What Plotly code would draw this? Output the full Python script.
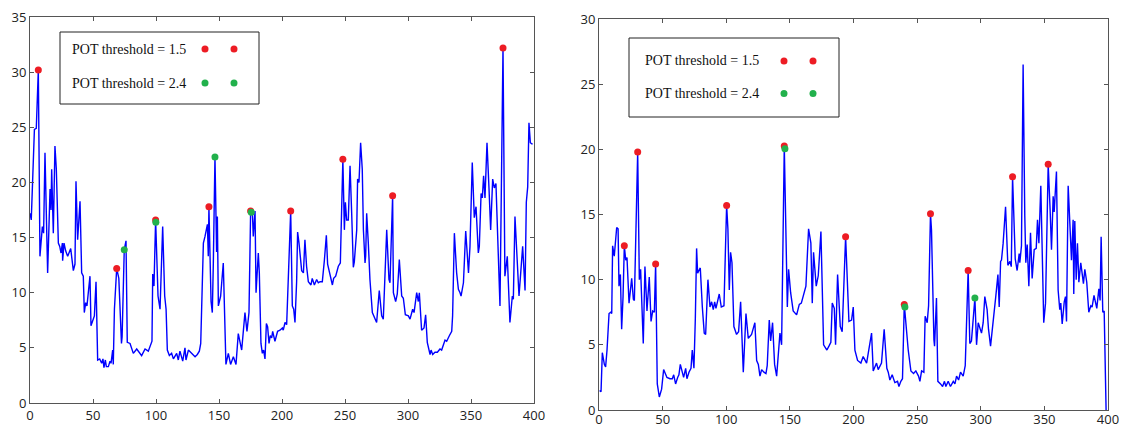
import plotly.graph_objects as go

# ---------------- data ----------------
# Left panel: signal series
left_x = [0, 1, 3.5, 5, 6.6, 7.9, 9.8, 10.8, 11.9, 14.0, 15.9, 16.7, 17.2, 18.5, 19.8, 20.9,
          22.5, 23.6, 24.6, 25.7, 25.9, 27.0, 28.3, 29.9, 32.3, 34.4, 35.7, 36.5, 37.8, 39.7,
          41.0, 42.3, 43.1, 44.2, 45.2, 47.6, 48.4, 50.2, 51.1, 52.4, 53.7, 55.3, 56.9, 57.9,
          58.7, 59.8, 60.6, 62.2, 63.5, 64.3, 65.6, 66.1, 67.0, 68.8, 70.5, 72.6, 73.1, 74.8,
          76.2, 77.2, 79.4, 82.0, 84.7, 88.6, 91.3, 93.9, 95.8, 96.8, 97.4, 98.4, 99.7, 101.6,
          103.2, 105.3, 106.9, 108.0, 109.0, 110.6, 112.4, 113.8, 116.4, 117.7, 119.0, 121.2,
          123.0, 123.8, 125.7, 128.3, 131.0, 132.8, 134.4, 135.5, 137.6, 138.9, 140.8, 141.5,
          142.0, 143.7, 144.7, 145.5, 146.8, 148.1, 148.7, 149.5, 151.3, 153.4, 155.5, 157.4,
          159.2, 161.4, 163.5, 165.3, 168.0, 170.6, 172.2, 173.8, 174.6, 175.1, 176.5, 177.2,
          178.6, 179.4, 181.2, 182.0, 183.3, 184.4, 185.4, 186.5, 187.6, 188.6, 189.7, 190.7,
          191.8, 192.6, 194.4, 196.5, 198.4, 200.3, 201.0, 202.4, 203.7, 206.3, 206.9, 208.2,
          209.3, 210.3, 211.6, 212.4, 213.5, 215.6, 217.0, 218.2, 219.5, 220.9, 223.0, 224.0,
          225.7, 227.5, 228.8, 230.2, 232.0, 233.6, 235.2, 236.2, 238.1, 240.0, 241.0, 242.6,
          244.7, 246.3, 248.3, 249.5, 250.3, 251.3, 252.6, 254.0, 255.3, 256.6, 257.4, 259.3,
          260.0, 261.1, 262.4, 263.7, 264.6, 265.9, 266.4, 267.2, 268.5, 269.8, 271.7, 273.8,
          275.1, 277.2, 279.1, 280.4, 283.1, 284.9, 285.7, 287.8, 288.4, 290.2, 291.5, 293.1,
          295.0, 296.3, 297.9, 300.3, 301.6, 303.7, 304.8, 306.9, 308.2, 309.0, 310.8, 312.7,
          314.0, 315.3, 317.5, 318.3, 319.6, 321.4, 323.3, 325.4, 326.7, 329.4, 330.7, 332.8,
          334.7, 335.4, 336.8, 338.6, 340.0, 341.3, 342.1, 344.0, 345.8, 348.0, 349.2, 351.0,
          352.6, 354.0, 355.8, 356.6, 358.0, 359.0, 360.0, 361.1, 362.7, 364.3, 365.6, 367.2,
          368.5, 369.8, 373.0, 375.4, 376.9, 378.8, 380.9, 382.8, 383.6, 384.9, 388.1, 391.0,
          392.9, 393.9, 395.0, 396.0, 397.1, 398.2, 399.0]
left_y = [17.2, 16.6, 24.8, 24.9, 30.2, 13.3, 16.0, 15.4, 22.7, 11.8, 19.4, 17.5, 21.2, 15.4, 23.3, 21.2,
          14.5, 14.2, 13.6, 14.5, 12.9, 14.5, 13.8, 13.3, 14.0, 12.0, 12.6, 20.1, 14.8, 18.3,
          11.8, 11.5, 8.2, 9.1, 8.8, 11.5, 7.0, 7.6, 7.9, 11.0, 3.9, 4.0, 3.6, 4.0,
          3.2, 3.9, 3.3, 3.3, 3.8, 3.6, 4.8, 3.5, 8.5, 12.2, 11.3, 5.4, 6.0, 13.9,
          14.7, 5.5, 5.4, 4.5, 4.9, 4.3, 4.9, 4.7, 5.4, 5.6, 11.7, 10.6, 16.6, 9.7,
          8.5, 16.0, 9.7, 8.5, 4.8, 4.3, 4.5, 4.0, 4.5, 3.9, 4.7, 3.8,
          5.0, 3.9, 4.8, 4.5, 4.2, 4.4, 4.7, 5.4, 14.5, 15.1, 16.2, 13.3,
          17.8, 9.2, 8.2, 12.7, 22.3, 13.7, 16.9, 8.8, 9.7, 12.7, 3.5, 4.5,
          3.5, 4.2, 3.5, 6.3, 4.8, 8.2, 6.5, 8.2, 14.2, 17.4, 17.3, 15.1,
          17.4, 10.0, 13.6, 11.8, 5.4, 4.5, 4.8, 4.0, 7.2, 6.9, 5.4, 6.1,
          5.9, 6.5, 5.6, 6.5, 6.6, 6.8, 6.6, 7.3, 7.1, 15.5, 17.4, 8.8,
          8.5, 7.3, 11.0, 15.5, 14.5, 12.0, 11.8, 14.8, 12.4, 11.0, 10.7, 11.3,
          10.7, 11.2, 10.9, 11.0, 11.0, 12.9, 15.2, 12.6, 11.5, 10.7, 11.3, 11.5,
          12.4, 12.7, 22.1, 15.7, 18.2, 16.6, 16.6, 21.5, 17.2, 12.3, 12.8, 15.7,
          20.3, 20.0, 23.6, 21.2, 15.7, 12.7, 13.3, 17.2, 14.5, 11.2, 8.2, 7.6,
          7.3, 10.2, 7.9, 7.6, 15.7, 11.2, 10.9, 18.8, 10.0, 9.2, 9.9, 13.0,
          9.7, 9.5, 8.0, 7.9, 7.6, 8.5, 8.2, 10.0, 9.2, 10.0, 6.6, 6.8,
          8.0, 5.5, 4.4, 4.8, 4.4, 4.6, 4.6, 4.9, 4.8, 5.7, 5.6, 6.1,
          6.5, 7.9, 15.4, 11.8, 10.3, 10.0, 9.7, 10.9, 15.6, 11.8, 14.2, 21.8,
          16.8, 17.8, 13.6, 14.2, 19.0, 18.6, 20.6, 18.6, 23.6, 19.4, 15.7, 20.3,
          19.5, 19.9, 8.8, 32.2, 11.5, 13.3, 7.3, 9.7, 9.4, 16.9, 9.7, 14.2,
          10.2, 18.2, 19.6, 25.4, 23.6, 23.5, 23.5]

# Left panel: peaks over threshold
left_red_x = [6.6, 68.8, 99.7, 142.0, 175.1, 206.9, 248.3, 287.8, 375.4]
left_red_y = [30.2, 12.2, 16.6, 17.8, 17.4, 17.4, 22.1, 18.8, 32.2]
left_green_x = [74.8, 99.9, 146.8, 175.6]
left_green_y = [13.9, 16.4, 22.3, 17.3]

# Right panel: signal series
right_x = [0.5, 1.6, 2.6, 4.2, 5.2, 6.3, 7.9, 9.2, 10.0, 10.7, 12.0, 13.9, 15.0, 15.7, 16.8, 17.8,
           18.9, 19.9, 21.0, 22.0, 23.6, 25.7, 27.0, 27.8, 30.4, 31.7, 32.7, 34.0, 34.8, 36.1,
           37.7, 39.5, 40.9, 42.2, 43.5, 44.5, 45.8, 47.4, 49.2, 50.8, 51.9, 53.4, 55.8, 57.6,
           58.7, 60.2, 61.8, 62.8, 63.9, 64.9, 66.5, 68.1, 69.1, 70.7, 72.3, 73.3, 74.6, 75.7,
           76.7, 77.5, 79.6, 81.2, 82.7, 83.8, 85.6, 87.2, 88.5, 89.8, 90.9, 91.9, 94.5, 96.1,
           98.2, 100.3, 101.3, 102.4, 103.4, 104.5, 106.0, 108.1, 109.7, 111.3, 113.4, 115.5,
           117.3, 119.9, 122.5, 123.9, 125.2, 126.5, 127.8, 129.6, 131.2, 132.2, 133.8, 134.9,
           136.4, 138.0, 139.6, 142.2, 143.5, 145.6, 148.0, 149.0, 150.6, 152.6, 155.3, 157.4,
           159.0, 162.6, 164.7, 166.5, 167.6, 168.6, 170.7, 172.3, 174.4, 176.5, 179.1, 180.7,
           182.2, 183.3, 184.9, 185.9, 187.5, 189.6, 191.1, 193.8, 196.4, 198.5, 199.8, 201.1,
           203.2, 205.8, 207.6, 210.3, 214.2, 215.5, 218.1, 219.4, 222.0, 224.1, 226.2, 227.3,
           228.6, 230.4, 232.5, 234.6, 235.7, 237.2, 238.5, 239.9, 243.0, 245.1, 247.2, 249.0,
           251.1, 252.2, 253.5, 255.3, 256.3, 257.9, 259.0, 260.5, 261.3, 263.2, 263.7, 265.2,
           266.3, 268.4, 270.0, 271.5, 272.6, 274.4, 276.2, 278.4, 279.7, 281.0, 282.6, 284.1,
           286.2, 287.8, 290.1, 291.4, 292.7, 295.4, 296.7, 298.0, 299.3, 300.6, 301.9, 303.2,
           305.0, 306.1, 307.7, 309.8, 311.9, 313.5, 314.5, 315.6, 316.3, 317.6, 319.5, 321.3,
           322.9, 324.0, 325.0, 327.1, 328.6, 330.2, 330.7, 332.0, 333.3, 334.6, 335.4, 336.5,
           337.8, 339.1, 340.4, 342.0, 343.6, 344.6, 345.7, 347.2, 348.3, 349.5, 350.9, 353.0,
           354.5, 355.6, 356.9, 357.7, 359.5, 360.8, 362.1, 362.9, 364.0, 365.6, 366.6, 367.4,
           368.7, 370.0, 371.3, 372.6, 373.1, 373.9, 375.0, 376.0, 377.1, 378.6, 379.7, 380.7,
           381.8, 383.3, 384.9, 386.5, 387.5, 389.0, 391.2, 392.8, 393.8, 394.6, 395.9, 397.0,
           398.5]
right_y = [1.5, 1.4, 4.4, 3.5, 3.3, 4.6, 7.4, 7.5, 7.4, 12.6, 11.8, 14.0, 13.9, 9.5, 10.4, 6.2,
           8.7, 12.6, 11.5, 11.7, 8.2, 10.1, 8.5, 8.4, 19.8, 10.0, 10.8, 6.4, 5.1, 11.0,
           7.6, 10.2, 6.8, 7.6, 7.5, 11.2, 2.0, 1.0, 1.6, 3.1, 2.8, 2.5, 2.4, 2.4,
           2.7, 2.0, 2.5, 2.7, 3.5, 3.0, 2.5, 3.2, 2.4, 2.9, 3.2, 4.6, 3.2, 7.0,
           12.4, 10.5, 10.9, 7.9, 5.9, 5.8, 10.0, 7.9, 8.3, 7.7, 8.3, 7.8, 8.9, 7.9,
           8.0, 15.7, 13.9, 9.2, 12.1, 11.3, 6.4, 5.8, 6.0, 8.3, 2.9, 7.4,
           5.5, 5.8, 6.7, 3.8, 3.5, 2.6, 3.1, 2.9, 2.8, 3.4, 6.9, 5.3,
           6.7, 3.5, 2.6, 5.9, 5.0, 20.25, 7.9, 10.8, 9.0, 7.6, 7.3, 8.1,
           8.2, 9.5, 13.9, 12.8, 8.2, 12.1, 9.5, 10.3, 13.7, 5.0, 4.6, 4.9,
           5.2, 8.2, 7.8, 5.0, 10.4, 6.4, 6.0, 13.3, 6.8, 6.9, 7.9, 4.6,
           3.8, 3.6, 4.1, 3.6, 5.9, 3.0, 3.6, 3.1, 3.6, 6.2, 3.2, 2.9,
           2.3, 2.7, 2.1, 2.2, 1.8, 2.2, 2.4, 8.1, 4.6, 3.0, 2.8, 3.0,
           2.6, 2.2, 3.0, 2.9, 7.2, 6.7, 8.0, 15.05, 13.8, 5.4, 4.9, 8.6,
           2.2, 2.0, 1.8, 2.2, 1.8, 2.2, 1.8, 2.2, 2.0, 2.6, 2.3, 2.9,
           2.6, 3.4, 10.7, 5.1, 5.3, 8.6, 5.0, 6.7, 6.2, 5.9, 6.7, 8.7,
           7.7, 6.2, 4.9, 6.7, 8.8, 10.4, 7.9, 11.4, 11.5, 12.8, 15.6, 11.1,
           11.4, 11.0, 17.9, 11.6, 10.7, 12.0, 11.3, 12.6, 26.5, 14.9, 11.3, 12.7,
           9.5, 13.6, 10.1, 12.3, 12.4, 14.6, 12.8, 17.2, 13.0, 6.7, 8.2, 18.85,
           15.4, 12.3, 16.4, 15.2, 18.3, 9.2, 7.7, 8.2, 6.6, 8.3, 8.7, 6.8,
           17.2, 14.6, 11.5, 14.6, 8.9, 14.5, 10.0, 12.8, 9.8, 11.3, 10.5, 9.7,
           10.8, 9.8, 7.5, 8.0, 7.9, 8.8, 7.8, 9.3, 8.4, 13.3, 7.5, 7.6,
           0.0]

# Right panel: peaks over threshold
right_red_x = [19.9, 30.4, 44.5, 100.3, 145.6, 193.8, 239.9, 260.5, 290.1, 325.0, 353.0]
right_red_y = [12.6, 19.8, 11.2, 15.7, 20.25, 13.3, 8.1, 15.05, 10.7, 17.9, 18.85]
right_green_x = [146.1, 240.4, 295.4]
right_green_y = [20.05, 7.9, 8.6]

legend_labels = ["POT threshold = 1.5", "POT threshold = 2.4"]

# ---------------- styling ----------------
W, H = 1126, 427
LINE_BLUE = "#0000ff"
RED = "#ed1c24"
GREEN = "#22b14c"
FRAME = "#555555"
TICK_FONT = dict(family="Open Sans, DejaVu Sans, sans-serif", size=13, color="#222222")
LEG_FONT = dict(family="Liberation Serif, DejaVu Serif, serif", size=14, color="#111111")


def fx(p):
    return p / W


def fy(p):
    return 1 - p / H


fig = go.Figure()

panels = [
    ("x", "y", left_x, left_y, left_red_x, left_red_y, left_green_x, left_green_y),
    ("x2", "y2", right_x, right_y, right_red_x, right_red_y, right_green_x, right_green_y),
]
for xa, ya, sx, sy, rx, ry, gx, gy in panels:
    fig.add_trace(go.Scatter(x=sx, y=sy, mode="lines", xaxis=xa, yaxis=ya,
                             line=dict(color=LINE_BLUE, width=1.4), showlegend=False,
                             hoverinfo="skip"))
    fig.add_trace(go.Scatter(x=rx, y=ry, mode="markers", xaxis=xa, yaxis=ya,
                             marker=dict(color=RED, size=7, line=dict(width=0)),
                             name=legend_labels[0], showlegend=False))
    fig.add_trace(go.Scatter(x=gx, y=gy, mode="markers", xaxis=xa, yaxis=ya,
                             marker=dict(color=GREEN, size=7, line=dict(width=0)),
                             name=legend_labels[1], showlegend=False))


def axis_style(domain, rng, dtick, anchor, standoff=0):
    return dict(domain=domain, range=rng, dtick=dtick, tick0=0, anchor=anchor,
                showline=True, linecolor=FRAME, linewidth=1, mirror="ticks",
                ticks="inside", ticklen=4, tickcolor=FRAME, tickwidth=1,
                showgrid=False, zeroline=False, tickfont=TICK_FONT, automargin=False,
                ticklabelstandoff=standoff)


fig.update_layout(
    width=W, height=H,
    margin=dict(l=0, r=0, t=0, b=0),
    paper_bgcolor="white", plot_bgcolor="white",
    showlegend=False,
    xaxis=axis_style([fx(30), fx(534)], [0, 400], 50, "y"),
    yaxis=axis_style([1 - 403 / H, 1 - 17 / H], [0, 35], 5, "x"),
    xaxis2=axis_style([fx(599), fx(1108)], [0, 400], 50, "y2", standoff=-3),
    yaxis2=axis_style([1 - 410 / H, 1 - 19 / H], [0, 30], 5, "x2"),
)

# Hand-drawn legend boxes (text on the left, two sample markers on the right)
legend_boxes = [
    dict(box=(60, 32, 259, 104), tx=70, rows=(49, 83), mx=(205, 234)),
    dict(box=(629, 38, 839, 117), tx=643, rows=(61, 93.5), mx=(784, 813)),
]
shapes = []
annotations = []
for lb in legend_boxes:
    x0, y0, x1, y1 = lb["box"]
    shapes.append(dict(type="rect", xref="paper", yref="paper",
                       x0=fx(x0), x1=fx(x1), y0=fy(y1), y1=fy(y0),
                       line=dict(color="#222222", width=1), fillcolor="white", layer="below"))
    for label, ry, col in zip(legend_labels, lb["rows"], (RED, GREEN)):
        annotations.append(dict(text=label, xref="paper", yref="paper",
                                x=fx(lb["tx"]), y=fy(ry), xanchor="left", yanchor="middle",
                                showarrow=False, font=LEG_FONT))
        for mx in lb["mx"]:
            r = 3.5
            shapes.append(dict(type="circle", xref="paper", yref="paper",
                               x0=fx(mx - r), x1=fx(mx + r), y0=fy(ry + r), y1=fy(ry - r),
                               fillcolor=col, line=dict(width=0)))

fig.update_layout(shapes=shapes, annotations=annotations)

fig.write_html("out.html")
